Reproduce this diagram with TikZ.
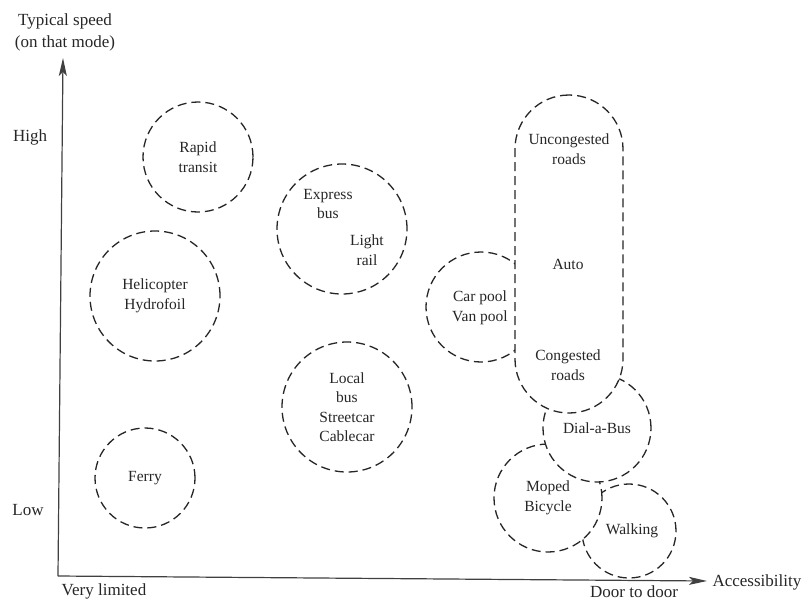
\documentclass[tikz,border=0pt]{standalone}
\usepackage{fontspec}
\setmainfont{Liberation Serif}
\usetikzlibrary{arrows.meta}
\begin{document}
\begin{tikzpicture}[x=1pt,y=-1pt,
  txt/.style={font=\fontsize{15.5}{19.5}\selectfont, align=center, text=black!85},
  axtxt/.style={font=\fontsize{17}{22}\selectfont, align=center, text=black!85},
  mode/.style={circle, draw=black!85, line width=1.3pt, dash pattern=on 9pt off 5pt, fill=white, inner sep=0pt, minimum size=#1},
  axis/.style={draw=black!75, line width=1.2pt, -{Stealth[length=18pt,width=8pt,inset=4pt]}}
]
\useasboundingbox (0,0) rectangle (803,603);
% axes
\coordinate (O) at (58,576);
\coordinate (ytip) at (63,58);
\coordinate (xtip) at (707,581);
\draw[axis] (O) -- (ytip);
\draw[axis] (O) -- (xtip);
\node[axtxt, anchor=south] (ylab) at (65,55) {Typical speed\\(on that mode)};
\node[axtxt] (high) at (30,137) {High};
\node[axtxt] (low) at (28,510) {Low};
\node[axtxt] (vlim) at (104,591) {Very limited};
\node[axtxt, anchor=base] (d2d) at (634,597) {Door to door};
\node[axtxt, anchor=west] (acc) at (709,582) {Accessibility};
% circles (left group)
\node[mode=110pt, txt] (rapid) at (198,157) {Rapid\\transit};
\node[mode=130pt] (express) at (342,229) {};
\node[txt] (expt) at (328,204) {Express\\bus};
\node[txt] (light) at (367,250) {Light\\rail};
\node[mode=130pt, txt] (heli) at (155,296) {Helicopter\\Hydrofoil};
\node[mode=130pt, txt] (local) at (347,407) {Local\\bus\\Streetcar\\Cablecar};
\node[mode=100pt, txt] (ferry) at (145,478) {Ferry};
% right cluster, drawn bottom to top
\node[mode=94pt, txt] (walk) at (629,531) {\hspace*{6pt}Walking};
\node[mode=108pt, txt] (moped) at (548,498) {Moped\\Bicycle};
\node[mode=108pt, txt] (dial) at (597,428) {Dial-a-Bus};
\node[mode=110pt] (carpool) at (481,307) {};
\node[txt] (cpt) at (480,308) {Car pool\\Van pool};
\node[draw=black!85, line width=1.3pt, dash pattern=on 9pt off 5pt, fill=white,
      rectangle, rounded corners=54pt, minimum width=108pt, minimum height=318pt, inner sep=0pt] (auto) at (569,254) {};
\node[txt] (uncong) at (569,149) {Uncongested\\roads};
\node[txt] (autot) at (568,264) {Auto};
\node[txt] (cong) at (568,365) {Congested\\roads};
\end{tikzpicture}
\end{document}
